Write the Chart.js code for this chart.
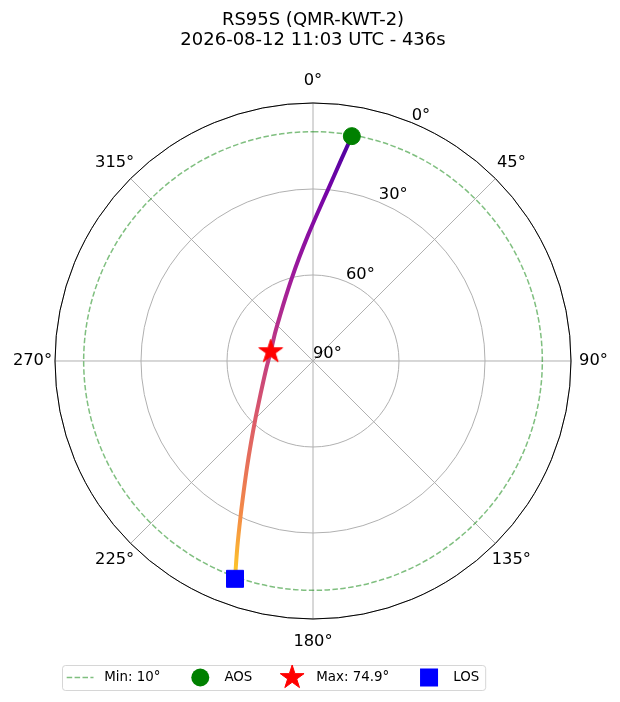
<!DOCTYPE html>
<html>
<head>
<meta charset="utf-8">
<title>RS95S (QMR-KWT-2) - pase</title>
<script src="https://cdn.jsdelivr.net/npm/chart.js@4.4.0/dist/chart.umd.min.js"></script>
<style>
    html, body { margin: 0; padding: 0; background: #ffffff; }
    #passChart { display: block; }
</style>
</head>
<body>
<canvas id="passChart" width="620" height="702"></canvas>
<script>
// Datos del pase: azimut y elevacion en grados
const trackAz = [9.8, 8.0, 5.0, 2.0, 357.9, 352.4, 345.1, 336.5, 324.1, 305.9, 282.5,
                 260.9, 244.2, 232.6, 224.6, 217.0, 211.8, 208.0, 205.0, 202.1, 199.7];
const trackEl = [10.4, 19.0, 30.0, 37.8, 45.8, 53.6, 60.6, 65.9, 70.4, 73.6, 74.9,
                 73.5, 70.4, 66.2, 61.3, 54.0, 46.3, 38.5, 30.2, 19.8, 9.3];
const minElevation = 10;
const maxElevation = 74.9;
const azimuthTicks = [0, 45, 90, 135, 180, 225, 270, 315];
const elevationTicks = [0, 30, 60, 90];
const titleLines = ['RS95S (QMR-KWT-2)', '2026-08-12 11:03 UTC - 436s'];
const legendLabels = ['Min: ' + minElevation + '°', 'AOS', 'Max: ' + maxElevation + '°', 'LOS'];

// Colores
const plasma = ['#0d0887', '#41049d', '#6a00a8', '#8f0da4', '#b12a90', '#cc4778',
                '#e16462', '#f2844b', '#fca636', '#fcce25', '#f0f921'];
// posicion vertical del trazo -> valor del mapa de color
const trackColorStops = [[0, 0.12], [0.12, 0.23], [0.325, 0.35], [0.49, 0.46],
                         [0.64, 0.57], [0.856, 0.72], [0.968, 0.86], [1, 0.9]];
const FONT = '"DejaVu Sans"';

Chart.defaults.font.family = FONT;
Chart.defaults.color = '#000000';

// Convertir azimut/elevacion a coordenadas (r = 90 - elevacion, norte arriba)
function toXY(az, el) {
    const a = az * Math.PI / 180;
    const r = 90 - el;
    return { x: r * Math.sin(a), y: r * Math.cos(a) };
}

function plasmaColor(t) {
    const pos = Math.min(Math.max(t, 0), 1) * (plasma.length - 1);
    const i = Math.min(Math.floor(pos), plasma.length - 2);
    const f = pos - i;
    const c0 = parseInt(plasma[i].slice(1), 16), c1 = parseInt(plasma[i + 1].slice(1), 16);
    const ch = s => Math.round(((c0 >> s) & 255) * (1 - f) + ((c1 >> s) & 255) * f);
    return `rgb(${ch(16)}, ${ch(8)}, ${ch(0)})`;
}

function starPath(ctx, cx, cy, outer) {
    const inner = outer * 0.381966;
    ctx.beginPath();
    for (let i = 0; i < 10; i++) {
        const r = i % 2 ? inner : outer;
        const a = -Math.PI / 2 + i * Math.PI / 5;
        const px = cx + r * Math.cos(a), py = cy + r * Math.sin(a);
        if (i === 0) ctx.moveTo(px, py); else ctx.lineTo(px, py);
    }
    ctx.closePath();
}

function makeStar(outer, color) {
    const size = Math.ceil(outer * 2 + 4);
    const c = document.createElement('canvas');
    c.width = size;
    c.height = size;
    const g = c.getContext('2d');
    starPath(g, size / 2, size / 2, outer);
    g.fillStyle = color;
    g.fill();
    g.strokeStyle = color;
    g.lineWidth = 1;
    g.stroke();
    return c;
}

const trackPoints = trackAz.map((az, i) => toXY(az, trackEl[i]));
const maxIndex = trackEl.indexOf(Math.max(...trackEl));
const aosPoint = trackPoints[0];
const losPoint = trackPoints[trackPoints.length - 1];
const maxPoint = trackPoints[maxIndex];
const starImg = makeStar(12.5, '#ff0000');

function trackGradient(context) {
    const chart = context.chart;
    if (!chart.chartArea) return plasmaColor(0.5);
    const y0 = chart.scales.y.getPixelForValue(aosPoint.y);
    const y1 = chart.scales.y.getPixelForValue(losPoint.y);
    const g = chart.ctx.createLinearGradient(0, y0, 0, y1);
    trackColorStops.forEach(([p, t]) => g.addColorStop(p, plasmaColor(t)));
    return g;
}

// Rejilla polar, anillo de elevacion minima y etiquetas
const polarGrid = {
    id: 'polarGrid',
    beforeDatasetsDraw(chart) {
        const { ctx, scales: { x, y } } = chart;
        const cx = x.getPixelForValue(0), cy = y.getPixelForValue(0);
        const rPx = v => x.getPixelForValue(v) - cx;
        ctx.save();
        ctx.strokeStyle = '#b0b0b0';
        ctx.lineWidth = 1;
        elevationTicks.forEach(el => {
            const r = rPx(90 - el);
            if (r <= 0) return;
            ctx.beginPath();
            ctx.arc(cx, cy, r, 0, Math.PI * 2);
            ctx.stroke();
        });
        azimuthTicks.forEach(az => {
            const p = toXY(az, 0);
            ctx.beginPath();
            ctx.moveTo(cx, cy);
            ctx.lineTo(x.getPixelForValue(p.x), y.getPixelForValue(p.y));
            ctx.stroke();
        });
        // anillo de elevacion minima
        ctx.strokeStyle = 'rgba(0, 128, 0, 0.5)';
        ctx.lineWidth = 1.5;
        ctx.setLineDash([5.5, 2.4]);
        ctx.beginPath();
        ctx.arc(cx, cy, rPx(90 - minElevation), -Math.PI / 2, Math.PI * 1.5);
        ctx.stroke();
        ctx.setLineDash([]);
        // borde exterior
        ctx.strokeStyle = '#000000';
        ctx.lineWidth = 1;
        ctx.beginPath();
        ctx.arc(cx, cy, rPx(90), 0, Math.PI * 2);
        ctx.stroke();

        // etiquetas de azimut
        ctx.fillStyle = '#000000';
        ctx.font = '16.3px ' + FONT;
        ctx.textAlign = 'center';
        ctx.textBaseline = 'middle';
        const labelR = rPx(90) + 22.5;
        azimuthTicks.forEach(az => {
            const a = az * Math.PI / 180;
            ctx.fillText(az + '°', cx + labelR * Math.sin(a), cy - labelR * Math.cos(a));
        });
        // etiquetas de elevacion (a 22.5 grados)
        ctx.textAlign = 'left';
        ctx.textBaseline = 'bottom';
        elevationTicks.forEach(el => {
            const p = toXY(22.5, el);
            ctx.fillText(el + '°', x.getPixelForValue(p.x), y.getPixelForValue(p.y) + 1);
        });
        ctx.restore();
    }
};

// Leyenda con marco, debajo del grafico
const legendBox = {
    id: 'legendBox',
    afterDraw(chart) {
        const ctx = chart.ctx;
        const fs = 13.4;
        const handle = 2 * fs, pad = 0.8 * fs, gap = 1.97 * fs;
        const left = 62, top = 665, height = 25;
        const midY = top + height / 2;
        ctx.save();
        ctx.font = fs + 'px ' + FONT;
        let cur = left + 4.7;
        const items = legendLabels.map(text => {
            const item = { text, hx: cur, tx: cur + handle + pad };
            cur = item.tx + ctx.measureText(text).width + gap;
            item.end = cur - gap;
            return item;
        });
        const right = items[items.length - 1].end + 6;

        ctx.beginPath();
        ctx.roundRect(left + 0.5, top + 0.5, right - left, height, 3);
        ctx.fillStyle = 'rgba(255, 255, 255, 0.8)';
        ctx.fill();
        ctx.strokeStyle = 'rgba(204, 204, 204, 0.8)';
        ctx.lineWidth = 1;
        ctx.stroke();

        const c = items.map(it => it.hx + handle / 2);
        // Min
        ctx.strokeStyle = 'rgba(0, 128, 0, 0.5)';
        ctx.lineWidth = 1.5;
        ctx.setLineDash([5.5, 2.4]);
        ctx.beginPath();
        ctx.moveTo(items[0].hx, midY);
        ctx.lineTo(items[0].hx + handle, midY);
        ctx.stroke();
        ctx.setLineDash([]);
        // AOS
        ctx.fillStyle = '#008000';
        ctx.beginPath();
        ctx.arc(c[1], midY, 9, 0, Math.PI * 2);
        ctx.fill();
        // Max
        ctx.fillStyle = '#ff0000';
        ctx.strokeStyle = '#ff0000';
        ctx.lineWidth = 1;
        starPath(ctx, c[2], midY, 12.5);
        ctx.fill();
        ctx.stroke();
        // LOS
        ctx.fillStyle = '#0000ff';
        ctx.fillRect(c[3] - 9, midY - 9, 18, 18);

        ctx.fillStyle = '#000000';
        ctx.textAlign = 'left';
        ctx.textBaseline = 'middle';
        items.forEach(it => ctx.fillText(it.text, it.tx, midY + 0.5));
        ctx.restore();
    }
};

new Chart(document.getElementById('passChart'), {
    type: 'scatter',
    data: {
        datasets: [
            {
                label: 'AOS',
                data: [aosPoint],
                pointStyle: 'circle',
                pointRadius: 8.5,
                backgroundColor: '#008000',
                borderColor: '#008000',
                borderWidth: 1,
                order: 0
            },
            {
                label: 'Max',
                data: [maxPoint],
                pointStyle: starImg,
                order: 0
            },
            {
                label: 'LOS',
                data: [losPoint],
                pointStyle: 'rect',
                pointRadius: 12,
                backgroundColor: '#0000ff',
                borderColor: '#0000ff',
                borderWidth: 1,
                order: 0
            },
            {
                type: 'line',
                label: 'Trayectoria',
                data: trackPoints,
                showLine: true,
                borderColor: trackGradient,
                borderWidth: 4,
                pointRadius: 0,
                tension: 0.3,
                order: 1
            }
        ]
    },
    options: {
        responsive: false,
        animation: false,
        events: [],
        layout: { padding: { left: 55, right: 49, top: 0, bottom: 83 } },
        scales: {
            x: { type: 'linear', min: -90, max: 90, display: false },
            y: { type: 'linear', min: -90, max: 90, display: false }
        },
        plugins: {
            legend: { display: false },
            tooltip: { enabled: false },
            title: {
                display: true,
                text: titleLines,
                color: '#000000',
                font: { size: 18, weight: 'normal', lineHeight: 1.111 },
                padding: { top: 10.5, bottom: 52.5 }
            }
        }
    },
    plugins: [polarGrid, legendBox]
});
</script>
</body>
</html>
